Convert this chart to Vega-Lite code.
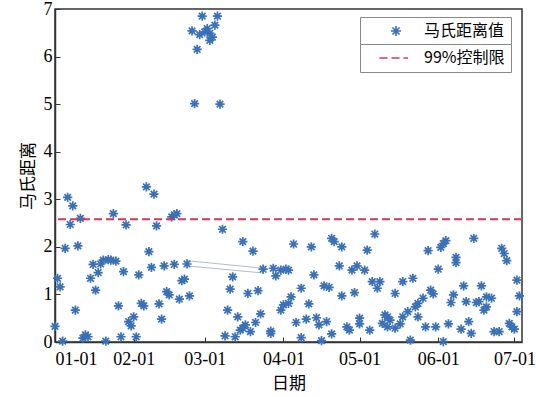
{
  "$schema": "https://vega.github.io/schema/vega-lite/v6.json",
  "width": 467,
  "height": 333,
  "autosize": "none",
  "padding": {"left": 55, "top": 9, "right": 14, "bottom": 55},
  "background": "white",
  "config": {
    "view": {"stroke": "#333", "strokeWidth": 1.5},
    "axis": {
      "labelFont": "Liberation Serif",
      "labelFontSize": 18,
      "labelColor": "#000",
      "titleFont": "Noto Sans CJK SC",
      "titleFontSize": 17,
      "titleFontWeight": "normal",
      "titleColor": "#000",
      "domainColor": "#333",
      "domainWidth": 1.5,
      "tickColor": "#333",
      "tickWidth": 1,
      "grid": false
    }
  },
  "datasets": {
    "points": [
      {"date": "2019-01-01", "value": 0.33}, {"date": "2019-01-02", "value": 1.34}, {"date": "2019-01-03", "value": 1.16},
      {"date": "2019-01-04", "value": 0.02}, {"date": "2019-01-05", "value": 1.97}, {"date": "2019-01-06", "value": 3.04},
      {"date": "2019-01-07", "value": 2.47}, {"date": "2019-01-08", "value": 2.86}, {"date": "2019-01-09", "value": 0.67},
      {"date": "2019-01-10", "value": 2.02}, {"date": "2019-01-11", "value": 2.60}, {"date": "2019-01-12", "value": 0.08},
      {"date": "2019-01-13", "value": 0.15}, {"date": "2019-01-14", "value": 0.11}, {"date": "2019-01-15", "value": 1.34},
      {"date": "2019-01-16", "value": 1.63}, {"date": "2019-01-17", "value": 1.09}, {"date": "2019-01-18", "value": 1.46},
      {"date": "2019-01-19", "value": 1.64}, {"date": "2019-01-20", "value": 1.72}, {"date": "2019-01-21", "value": 0.02},
      {"date": "2019-01-22", "value": 1.73}, {"date": "2019-01-23", "value": 1.72}, {"date": "2019-01-24", "value": 2.70},
      {"date": "2019-01-25", "value": 1.70}, {"date": "2019-01-26", "value": 0.76}, {"date": "2019-01-27", "value": 0.11},
      {"date": "2019-01-28", "value": 1.48}, {"date": "2019-01-29", "value": 2.46}, {"date": "2019-01-30", "value": 0.43},
      {"date": "2019-01-31", "value": 0.34}, {"date": "2019-02-01", "value": 0.53}, {"date": "2019-02-02", "value": 0.11},
      {"date": "2019-02-03", "value": 1.41}, {"date": "2019-02-04", "value": 0.81}, {"date": "2019-02-05", "value": 0.76},
      {"date": "2019-02-06", "value": 3.26}, {"date": "2019-02-07", "value": 1.90}, {"date": "2019-02-08", "value": 1.57},
      {"date": "2019-02-09", "value": 3.11}, {"date": "2019-02-10", "value": 2.44}, {"date": "2019-02-11", "value": 0.80},
      {"date": "2019-02-12", "value": 0.48}, {"date": "2019-02-13", "value": 1.60}, {"date": "2019-02-14", "value": 1.06},
      {"date": "2019-02-15", "value": 0.99}, {"date": "2019-02-16", "value": 2.63}, {"date": "2019-02-17", "value": 1.63},
      {"date": "2019-02-17", "value": 2.67}, {"date": "2019-02-18", "value": 2.70}, {"date": "2019-02-19", "value": 0.90},
      {"date": "2019-02-20", "value": 1.29}, {"date": "2019-02-21", "value": 1.32}, {"date": "2019-02-22", "value": 1.64},
      {"date": "2019-02-23", "value": 0.97}, {"date": "2019-02-24", "value": 6.54}, {"date": "2019-02-25", "value": 5.01},
      {"date": "2019-02-26", "value": 6.15}, {"date": "2019-02-27", "value": 6.46}, {"date": "2019-02-28", "value": 6.85},
      {"date": "2019-03-01", "value": 6.52}, {"date": "2019-03-02", "value": 6.59}, {"date": "2019-03-03", "value": 6.49},
      {"date": "2019-03-03", "value": 6.34}, {"date": "2019-03-04", "value": 6.41}, {"date": "2019-03-05", "value": 6.66},
      {"date": "2019-03-06", "value": 6.85}, {"date": "2019-03-07", "value": 5.00}, {"date": "2019-03-08", "value": 2.37},
      {"date": "2019-03-09", "value": 0.13}, {"date": "2019-03-10", "value": 0.67}, {"date": "2019-03-11", "value": 1.11},
      {"date": "2019-03-12", "value": 1.37}, {"date": "2019-03-13", "value": 0.11}, {"date": "2019-03-14", "value": 0.53},
      {"date": "2019-03-15", "value": 0.25}, {"date": "2019-03-16", "value": 2.11}, {"date": "2019-03-16", "value": 0.29},
      {"date": "2019-03-17", "value": 0.36}, {"date": "2019-03-18", "value": 1.02}, {"date": "2019-03-19", "value": 0.22},
      {"date": "2019-03-20", "value": 1.91}, {"date": "2019-03-21", "value": 0.41}, {"date": "2019-03-22", "value": 1.08},
      {"date": "2019-03-23", "value": 0.59}, {"date": "2019-03-24", "value": 1.53}, {"date": "2019-03-27", "value": 0.23},
      {"date": "2019-03-27", "value": 0.18}, {"date": "2019-03-28", "value": 1.55}, {"date": "2019-03-29", "value": 1.39},
      {"date": "2019-03-31", "value": 1.51}, {"date": "2019-03-31", "value": 0.67}, {"date": "2019-04-01", "value": 0.78},
      {"date": "2019-04-02", "value": 1.53}, {"date": "2019-04-03", "value": 1.51}, {"date": "2019-04-03", "value": 0.81},
      {"date": "2019-04-04", "value": 0.95}, {"date": "2019-04-05", "value": 2.06}, {"date": "2019-04-06", "value": 0.41},
      {"date": "2019-04-08", "value": 1.13}, {"date": "2019-04-08", "value": 0.09}, {"date": "2019-04-10", "value": 0.48},
      {"date": "2019-04-11", "value": 0.80}, {"date": "2019-04-12", "value": 2.00}, {"date": "2019-04-13", "value": 1.41},
      {"date": "2019-04-14", "value": 0.51}, {"date": "2019-04-15", "value": 0.36}, {"date": "2019-04-16", "value": 0.03},
      {"date": "2019-04-17", "value": 1.18}, {"date": "2019-04-18", "value": 0.43}, {"date": "2019-04-19", "value": 1.15},
      {"date": "2019-04-20", "value": 0.17}, {"date": "2019-04-20", "value": 2.18}, {"date": "2019-04-21", "value": 2.11},
      {"date": "2019-04-23", "value": 1.60}, {"date": "2019-04-24", "value": 0.97}, {"date": "2019-04-24", "value": 2.00},
      {"date": "2019-04-26", "value": 0.32}, {"date": "2019-04-27", "value": 0.25}, {"date": "2019-04-28", "value": 1.51},
      {"date": "2019-04-29", "value": 1.04}, {"date": "2019-04-30", "value": 1.60}, {"date": "2019-05-01", "value": 0.38},
      {"date": "2019-05-01", "value": 0.50}, {"date": "2019-05-03", "value": 1.51}, {"date": "2019-05-04", "value": 1.93},
      {"date": "2019-05-05", "value": 0.25}, {"date": "2019-05-06", "value": 1.27}, {"date": "2019-05-07", "value": 2.27},
      {"date": "2019-05-08", "value": 1.13}, {"date": "2019-05-09", "value": 1.27}, {"date": "2019-05-10", "value": 0.39},
      {"date": "2019-05-11", "value": 0.57}, {"date": "2019-05-12", "value": 0.53}, {"date": "2019-05-12", "value": 0.32},
      {"date": "2019-05-13", "value": 0.46}, {"date": "2019-05-15", "value": 1.02}, {"date": "2019-05-15", "value": 0.29},
      {"date": "2019-05-17", "value": 0.38}, {"date": "2019-05-18", "value": 0.53}, {"date": "2019-05-18", "value": 1.27},
      {"date": "2019-05-20", "value": 0.64}, {"date": "2019-05-21", "value": 0.04}, {"date": "2019-05-22", "value": 1.34},
      {"date": "2019-05-23", "value": 0.74}, {"date": "2019-05-24", "value": 0.53}, {"date": "2019-05-24", "value": 0.81},
      {"date": "2019-05-26", "value": 0.92}, {"date": "2019-05-27", "value": 0.32}, {"date": "2019-05-28", "value": 1.92},
      {"date": "2019-05-29", "value": 1.09}, {"date": "2019-05-30", "value": 1.01}, {"date": "2019-05-31", "value": 0.32},
      {"date": "2019-06-01", "value": 1.53}, {"date": "2019-06-02", "value": 1.99}, {"date": "2019-06-03", "value": 2.07},
      {"date": "2019-06-03", "value": 0.01}, {"date": "2019-06-04", "value": 2.13}, {"date": "2019-06-05", "value": 0.38},
      {"date": "2019-06-06", "value": 0.83}, {"date": "2019-06-07", "value": 0.99}, {"date": "2019-06-08", "value": 1.67},
      {"date": "2019-06-08", "value": 1.78}, {"date": "2019-06-10", "value": 0.27}, {"date": "2019-06-11", "value": 1.18},
      {"date": "2019-06-12", "value": 0.85}, {"date": "2019-06-13", "value": 0.43}, {"date": "2019-06-14", "value": 0.18},
      {"date": "2019-06-15", "value": 2.18}, {"date": "2019-06-16", "value": 0.83}, {"date": "2019-06-17", "value": 0.85},
      {"date": "2019-06-18", "value": 1.18}, {"date": "2019-06-19", "value": 0.67}, {"date": "2019-06-20", "value": 0.95},
      {"date": "2019-06-20", "value": 0.74}, {"date": "2019-06-22", "value": 0.92}, {"date": "2019-06-23", "value": 0.22},
      {"date": "2019-06-25", "value": 0.22}, {"date": "2019-06-26", "value": 1.97}, {"date": "2019-06-27", "value": 1.86},
      {"date": "2019-06-28", "value": 1.71}, {"date": "2019-06-29", "value": 0.39}, {"date": "2019-06-30", "value": 0.32},
      {"date": "2019-07-01", "value": 0.27}, {"date": "2019-07-02", "value": 1.30}, {"date": "2019-07-02", "value": 0.64},
      {"date": "2019-07-03", "value": 0.97}
    ],
    "trace": [
      {"date": "2019-02-22", "value": 1.71, "seg": "a"}, {"date": "2019-03-24", "value": 1.55, "seg": "a"},
      {"date": "2019-02-22", "value": 1.60, "seg": "b"}, {"date": "2019-03-24", "value": 1.45, "seg": "b"}
    ],
    "limit": [{"limit": 2.58}]
  },
  "layer": [
    {
      "data": {"name": "trace"},
      "mark": {"type": "line", "color": "#8fa0b5", "strokeWidth": 0.7},
      "encoding": {
        "x": {"field": "date", "type": "temporal", "scale": {"type": "utc", "domain": [{"year": 2019, "month": 1, "date": 1, "utc": true}, {"year": 2019, "month": 7, "date": 4, "utc": true}], "nice": false}},
        "y": {"field": "value", "type": "quantitative", "scale": {"domain": [0, 7], "nice": false}},
        "detail": {"field": "seg"}
      }
    },
    {
      "data": {"name": "points"},
      "mark": {"type": "point", "shape": "M0,-1L0,1M-1,0L1,0M-0.71,-0.71L0.71,0.71M-0.71,0.71L0.71,-0.71", "filled": false, "strokeWidth": 1.7, "size": 85, "opacity": 1},
      "encoding": {
        "x": {
          "field": "date", "type": "temporal",
          "scale": {"type": "utc", "domain": [{"year": 2019, "month": 1, "date": 1, "utc": true}, {"year": 2019, "month": 7, "date": 4, "utc": true}], "nice": false},
          "axis": {
            "title": "日期", "format": "%m-%d", "tickSize": -5, "labelPadding": 13, "titlePadding": 7,
            "values": [
              {"year": 2019, "month": 1, "date": 1, "utc": true}, {"year": 2019, "month": 2, "date": 1, "utc": true},
              {"year": 2019, "month": 3, "date": 1, "utc": true}, {"year": 2019, "month": 4, "date": 1, "utc": true},
              {"year": 2019, "month": 5, "date": 1, "utc": true}, {"year": 2019, "month": 6, "date": 1, "utc": true},
              {"year": 2019, "month": 7, "date": 1, "utc": true}
            ]
          }
        },
        "y": {
          "field": "value", "type": "quantitative",
          "scale": {"domain": [0, 7], "nice": false},
          "axis": {"title": "马氏距离", "values": [0, 1, 2, 3, 4, 5, 6, 7], "tickSize": -5, "labelPadding": 8, "titlePadding": 6}
        },
        "color": {
          "datum": "马氏距离值", "type": "nominal",
          "scale": {"domain": ["马氏距离值"], "range": ["#3a70b5"]},
          "legend": {
            "title": null,
            "orient": "none",
            "legendX": 305,
            "legendY": 8,
            "strokeColor": "#888",
            "fillColor": "white",
            "padding": 6,
            "symbolSize": 100,
            "symbolStrokeWidth": 1.6,
            "symbolOffset": 22,
            "labelOffset": 20,
            "labelFont": "Noto Sans CJK SC",
            "labelFontSize": 16,
            "labelColor": "#000"
          }
        }
      }
    },
    {
      "data": {"name": "limit"},
      "mark": {"type": "rule", "strokeWidth": 2, "color": "#d2385e"},
      "encoding": {
        "y": {"field": "limit", "type": "quantitative"},
        "strokeDash": {
          "datum": "99%控制限", "type": "nominal",
          "scale": {"domain": ["99%控制限"], "range": [[8, 4]]},
          "legend": {
            "title": null,
            "orient": "none",
            "legendX": 305,
            "legendY": 35,
            "strokeColor": "#888",
            "fillColor": "white",
            "padding": 6,
            "symbolType": "M-3.3,0H2.4",
            "symbolSize": 100,
            "symbolStrokeWidth": 1.6,
            "symbolStrokeColor": "#d2385e",
            "symbolOffset": 22,
            "labelOffset": 20,
            "labelFont": "Noto Sans CJK SC",
            "labelFontSize": 16,
            "labelColor": "#000"
          }
        }
      }
    }
  ]
}
